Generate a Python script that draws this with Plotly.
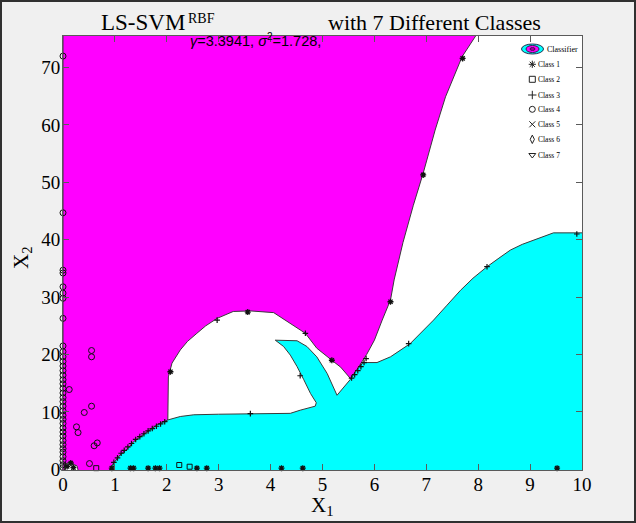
import plotly.graph_objects as go

# ------------------------------------------------------------------ data
# decision regions (boundary vertices)
magenta_x = [0.0, 0.0, 7.97, 7.95, 7.69, 7.37, 7.17, 6.94, 6.75, 6.55, 6.38, 6.31, 6.15, 6.0, 5.85,
             5.79, 5.65, 5.54, 5.35, 5.18, 5.0, 4.89, 4.67, 4.38, 4.06, 3.61, 3.28, 2.97, 2.75,
             2.58, 2.40, 2.26, 2.10, 2.03, 2.02, 1.90, 1.81, 1.62, 1.50, 1.36, 1.25, 1.10, 0.97, 0.87]
magenta_y = [-0.5, 76.0, 76.0, 75.5, 71.9, 64.9, 59.1, 51.6, 46.0, 39.5, 33.0, 29.5, 26.0, 22.5, 20.0,
             19.1, 17.2, 15.8, 17.8, 19.0, 20.3, 21.1, 23.7, 25.4, 27.3, 27.6, 27.5, 26.3, 25.0,
             23.7, 22.3, 20.8, 18.5, 16.1, 8.6, 8.1, 7.7, 6.55, 5.7, 4.8, 3.6, 2.5, 1.0, -0.5]

cyan_x = [0.87, 0.97, 1.10, 1.25, 1.36, 1.50, 1.62, 1.81, 1.90, 2.02, 2.26, 2.52, 3.0, 3.6, 4.38,
          4.57, 4.86, 4.88, 4.77, 4.64, 4.51, 4.38, 4.25, 4.09, 4.51, 4.70, 4.89, 5.09, 5.21, 5.28,
          5.54, 5.65, 5.79, 5.82, 6.05, 6.31, 6.69, 6.90, 7.14, 7.40, 7.66, 7.90, 8.17, 8.40, 8.62,
          8.85, 9.07, 9.25, 9.45, 10.05, 10.05]
cyan_y = [-0.5, 1.0, 2.5, 3.6, 4.8, 5.7, 6.55, 7.7, 8.1, 8.6, 9.2, 9.5, 9.6, 9.7, 9.75,
          10.3, 11.0, 11.6, 13.2, 15.6, 17.9, 19.9, 21.4, 22.5, 22.4, 21.4, 19.6, 16.7, 14.4, 12.9,
          15.7, 17.2, 18.7, 18.6, 18.6, 19.6, 21.9, 23.8, 26.0, 28.6, 31.2, 33.3, 35.3, 36.8, 38.2,
          39.2, 39.9, 40.6, 41.2, 41.2, -0.5]

# small unclassified patch near the origin
gap_x = [0.03, 0.03, 0.12, 0.27, 0.30]
gap_y = [-0.5, 0.9, 1.2, 0.6, -0.5]

# training points
class1_x = [0.94, 1.30, 1.36, 1.64, 1.78, 1.86, 2.58, 2.77, 4.21, 4.62, 9.52,
            0.08, 0.15, 0.20, 2.07, 3.56, 5.18, 6.31, 6.94, 7.70]
class1_y = [0.2, 0.2, 0.2, 0.2, 0.2, 0.2, 0.2, 0.2, 0.2, 0.2, 0.2,
            0.5, 1.1, 0.3, 17.0, 27.4, 19.0, 29.2, 51.3, 71.6]

class2_x = [0.64, 2.24, 2.44]
class2_y = [0.2, 0.75, 0.45]

class3_x = [0.98, 1.05, 1.12, 1.18, 1.25, 1.32, 1.40, 1.48, 1.56, 1.64, 1.72, 1.80, 1.88, 1.96,
            5.56, 5.62, 5.68, 5.74, 5.80, 5.84,
            3.61, 4.67, 4.57, 6.66, 8.17, 9.90, 2.97]
class3_y = [1.2, 2.0, 2.8, 3.3, 3.9, 4.5, 5.2, 5.7, 6.2, 6.7, 7.1, 7.5, 7.9, 8.3,
            15.9, 16.5, 17.2, 17.9, 18.6, 19.3,
            9.7, 23.7, 16.3, 21.9, 35.3, 41.0, 26.0]

class4_x = [0.0] * 37 + [0.55, 0.55, 0.12, 0.55, 0.41, 0.26, 0.29, 0.66, 0.60, 0.51]
class4_y = [0.3, 0.8, 1.5, 2.2, 3.0, 3.6, 4.3, 5.0, 5.8, 6.5, 7.2, 8.0, 8.7, 9.4, 10.2, 11.0,
            11.8, 12.5, 13.3, 14.1, 14.9, 15.6, 16.4, 17.2, 18.0, 18.8, 19.6, 20.5, 21.5, 26.3,
            29.8, 30.7, 31.8, 34.2, 34.7, 44.7, 72.0,
            20.7, 19.6, 13.9, 11.0, 9.9, 7.4, 6.4, 4.6, 4.1, 1.0]

x_ticks = list(range(0, 11))
y_ticks = list(range(0, 71, 10))
legend_labels = ["Class 1", "Class 2", "Class 3", "Class 4", "Class 5", "Class 6", "Class 7"]
legend_symbols = ["asterisk-open", "square-open", "cross-thin-open", "circle-open",
                  "x-thin-open", "diamond-tall-open", "triangle-down-open"]

# ------------------------------------------------------------------ layout constants
W, H = 636, 523
L, R, T, B = 63, 54, 36, 53
SERIF = "Liberation Serif"
SANS = "Liberation Sans"
EDGE = "#3a3a3a"
AX = "#5a5a5a"


def pxx(p):
    return (p - L) / (W - L - R)


def pxy(p):
    return (H - B - p) / (H - T - B)


fig = go.Figure()

fig.add_trace(go.Scatter(x=magenta_x, y=magenta_y, mode="lines", fill="toself",
                         fillcolor="#ff00ff", line=dict(color=EDGE, width=1), hoverinfo="skip"))
fig.add_trace(go.Scatter(x=cyan_x, y=cyan_y, mode="lines", fill="toself",
                         fillcolor="#00ffff", line=dict(color=EDGE, width=1), hoverinfo="skip"))
fig.add_trace(go.Scatter(x=gap_x, y=gap_y, mode="lines", fill="toself",
                         fillcolor="#ffffff", line=dict(color=EDGE, width=1), hoverinfo="skip"))

pts = [
    (class1_x, class1_y, "asterisk-open", 5, 1.3),
    (class2_x, class2_y, "square-open", 5, 1),
    (class3_x, class3_y, "cross-thin-open", 4, 1.2),
    (class4_x, class4_y, "circle-open", 6, 1),
]
for xs, ys, sym, size, lw in pts:
    fig.add_trace(go.Scatter(x=xs, y=ys, mode="markers", cliponaxis=False,
                             marker=dict(symbol=sym, size=size, color="#111111",
                                         line=dict(color="#111111", width=lw))))

# legend drawn on an overlay axis measured in pixels
leg_rows = [64.3, 79.3, 95.0, 109.3, 124.3, 139.3, 155.0]
fig.add_trace(go.Scatter(x=[532.3] * 7, y=leg_rows, mode="markers", xaxis="x2", yaxis="y2",
                         marker=dict(symbol=legend_symbols, size=6, color="#222222",
                                     line=dict(color="#222222", width=1))))

ax_common = dict(showline=True, linecolor=AX, linewidth=1, mirror="ticks", ticks="inside",
                 ticklen=6, tickcolor=AX, showgrid=False, zeroline=False,
                 tickfont=dict(family=SERIF, size=19, color="black"))
fig.update_layout(
    width=W, height=H, margin=dict(l=L, r=R, t=T, b=B),
    paper_bgcolor="#f0f0f0", plot_bgcolor="#ffffff", showlegend=False,
    xaxis=dict(range=[0, 10], tickvals=x_ticks, ticklabelstandoff=-3, **ax_common),
    yaxis=dict(range=[-0.12, 75.5], tickvals=y_ticks, ticklabelstandoff=-2, **ax_common),
    xaxis2=dict(overlaying="x", range=[L, W - R], visible=False),
    yaxis2=dict(overlaying="y", range=[H - B, T], visible=False),
)

shapes = [
    dict(type="rect", xref="paper", yref="paper", x0=pxx(1), x1=pxx(635), y0=pxy(522), y1=pxy(1),
         line=dict(color="#303030", width=2), fillcolor="rgba(0,0,0,0)", layer="above"),
    dict(type="circle", xref="x2", yref="y2", x0=521.5, x1=543.5, y0=44, y1=54,
         fillcolor="#00ffff", line=dict(color="#203050", width=1)),
    dict(type="circle", xref="x2", yref="y2", x0=526, x1=539, y0=45.5, y1=52.5,
         fillcolor="#ff00ff", line=dict(color="#302050", width=1)),
    dict(type="circle", xref="x2", yref="y2", x0=530, x1=535, y0=47.6, y1=50.4,
         fillcolor="#b000b0", line=dict(color="#401040", width=1)),
]
fig.update_layout(shapes=shapes)

ann = []
# title pieces
ann.append(dict(text="LS-SVM", x=pxx(187), y=pxy(23), xanchor="right", yanchor="middle",
                font=dict(family=SERIF, size=23, color="black")))
ann.append(dict(text="RBF", x=pxx(186), y=pxy(18), xanchor="left", yanchor="middle",
                font=dict(family=SERIF, size=14, color="black")))
ann.append(dict(text="<i>γ</i>=3.3941, <i>σ</i><sup>2</sup>=1.728,", x=pxx(188), y=pxy(40),
                xanchor="left", yanchor="middle", font=dict(family=SANS, size=14.5, color="black")))
ann.append(dict(text="with 7 Different Classes", x=pxx(326), y=pxy(23), xanchor="left",
                yanchor="middle", font=dict(family=SERIF, size=22, color="black")))
# axis titles
ann.append(dict(text="X<sub>1</sub>", x=pxx(322), y=pxy(506), xanchor="center", yanchor="middle",
                font=dict(family=SERIF, size=21, color="black")))
ann.append(dict(text="X<sub>2</sub>", x=pxx(22), y=pxy(258), xanchor="center", yanchor="middle",
                textangle=-90, font=dict(family=SERIF, size=21, color="black")))
# legend texts
ann.append(dict(text="Classifier", x=pxx(545), y=pxy(50), xanchor="left", yanchor="middle",
                font=dict(family=SERIF, size=8, color="black")))
for lab, yy in zip(legend_labels, leg_rows):
    ann.append(dict(text=lab, x=pxx(536), y=pxy(yy), xanchor="left", yanchor="middle",
                    font=dict(family=SERIF, size=7.5, color="black")))
for a in ann:
    a.update(xref="paper", yref="paper", showarrow=False)
fig.update_layout(annotations=ann)

fig.write_html("out.html")
